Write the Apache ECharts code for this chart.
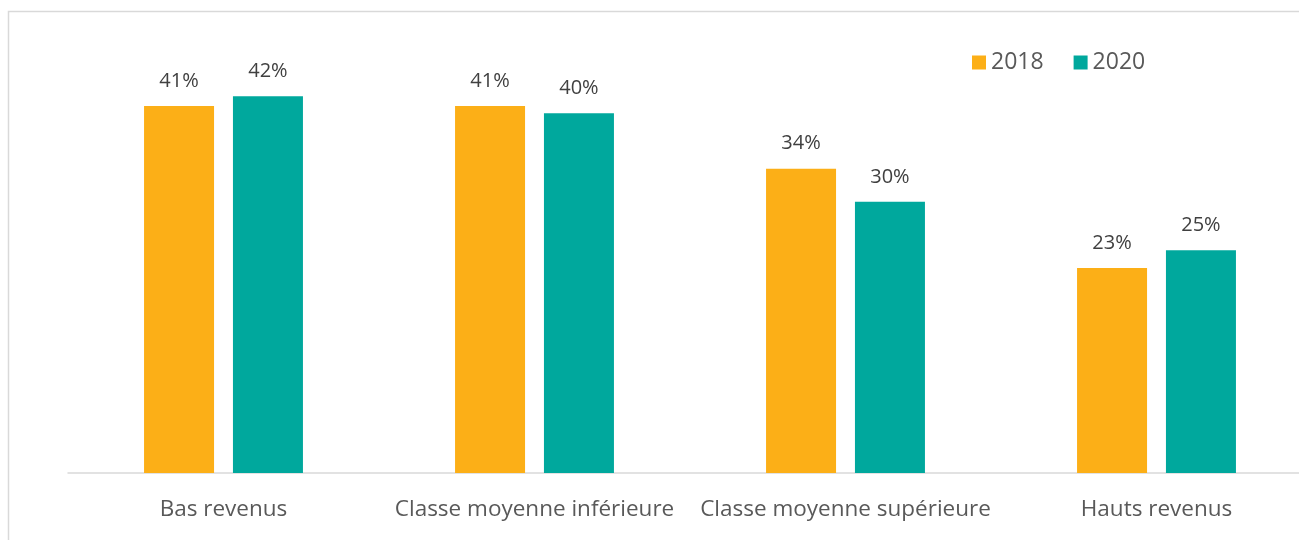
<!DOCTYPE html>
<html>
<head>
<meta charset="utf-8">
<script src="https://cdn.jsdelivr.net/npm/echarts@6/dist/echarts.min.js"></script>
<style>
  html, body { margin: 0; padding: 0; background: #fff; }
  #chart { width: 1299px; height: 540px; }
</style>
</head>
<body>
<div id="chart"></div>
<script>
var categories = ['Bas revenus', 'Classe moyenne inférieure', 'Classe moyenne supérieure', 'Hauts revenus'];
var values2018 = [41.0, 41.0, 34.0, 22.9];
var values2020 = [42.1, 40.2, 30.3, 24.9];

var chart = echarts.init(document.getElementById('chart'));

var labelStyle = {
    show: true,
    position: 'top',
    distance: 15,
    color: '#404040',
    fontSize: 20,
    fontFamily: 'Open Sans',
    formatter: function (p) { return Math.round(p.value) + '%'; }
};

var option = {
    color: ['#FCAF17', '#00A89D'],
    animation: false,
    graphic: [{
        type: 'rect',
        shape: { x: 8.5, y: 11.5, width: 1300, height: 540 },
        style: { fill: 'none', stroke: '#d9d9d9', lineWidth: 1.5 },
        silent: true
    }],
    legend: {
        top: 46,
        left: 967,
        itemWidth: 14,
        itemHeight: 14,
        itemGap: 30,
        icon: 'rect',
        textStyle: { color: '#595959', fontSize: 23, fontFamily: 'Open Sans' },
        data: ['2018', '2020']
    },
    grid: {
        left: 68,
        right: -13,
        top: 25.5,
        bottom: 67,
        outerBoundsMode: 'none'
    },
    xAxis: {
        type: 'category',
        data: categories,
        axisTick: { show: false },
        axisLine: { lineStyle: { color: '#d9d9d9', width: 1.5 } },
        axisLabel: {
            color: '#595959',
            fontSize: 22.5,
            fontFamily: 'Open Sans',
            margin: 25,
            interval: 0
        }
    },
    yAxis: {
        type: 'value',
        min: 0,
        max: 50,
        show: false,
        splitLine: { show: false }
    },
    series: [
        {
            name: '2018',
            type: 'bar',
            barWidth: 70,
            barGap: '27%',
            label: labelStyle,
            data: values2018
        },
        {
            name: '2020',
            type: 'bar',
            barWidth: 70,
            label: labelStyle,
            data: values2020
        }
    ]
};

chart.setOption(option);
</script>
</body>
</html>
